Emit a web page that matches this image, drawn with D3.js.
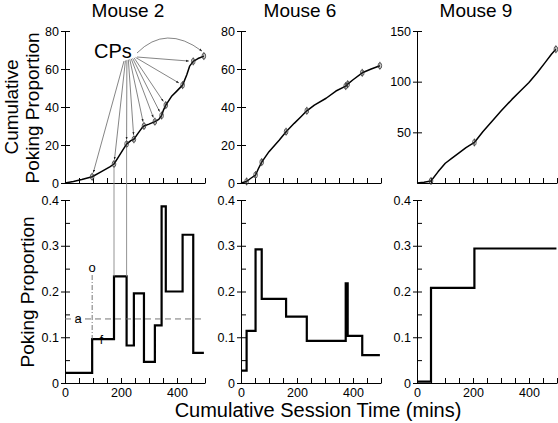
<!DOCTYPE html>
<html><head><meta charset="utf-8">
<script src="https://cdn.jsdelivr.net/npm/d3@7"></script>
<style>
body{margin:0;background:#fff}
svg{display:block}
text{font-family:"Liberation Sans",Arial,Helvetica,sans-serif;fill:#000}
</style>
</head><body>
<svg id="c" width="558" height="423"></svg>
<script>
// ---------- data ----------
const mouseNames = ["Mouse 2", "Mouse 6", "Mouse 9"];
const timeTicks = [0, 50, 100, 150, 200, 250, 300, 350, 400, 450, 500];
const timeLabelTicks = [0, 200, 400];
const propTicks = [0, 0.1, 0.2, 0.3, 0.4];
const propMinorTicks = [0.05, 0.15, 0.25, 0.35];
const cumTicks2 = [0, 20, 40, 60, 80];
const cumTicks6 = [0, 20, 40, 60, 80];
const cumTicks9 = [50, 100, 150];

// Mouse 2 cumulative curve
const m2CumTime = [0, 30, 60, 97, 130, 160, 175, 190, 205, 220, 235, 246, 260, 275, 282, 300, 321, 335, 345, 352, 360, 380, 400, 420, 435, 445, 458, 475, 496];
const m2CumVal  = [0, 0.8, 1.8, 3.3, 6, 8.5, 10, 13.5, 17, 20.5, 22.3, 23, 26, 29, 30, 31, 32.3, 33.5, 35.5, 38.5, 41, 45.5, 48.5, 51.5, 57, 61.5, 64, 65.5, 66.8];
const m2CPTime = [97, 175, 220, 246, 282, 321, 345, 360, 420, 458, 496];
const m2CPVal  = [3.3, 10, 20.5, 23, 30, 32.3, 35.5, 41, 51.5, 64, 66.8];
// Mouse 2 step (poking proportion)
const m2StepTime = [0, 97, 175, 220, 246, 282, 321, 345, 360, 420, 458, 496];
const m2StepVal  = [0.022, 0.096, 0.233, 0.082, 0.196, 0.046, 0.126, 0.386, 0.2, 0.324, 0.066];

// Mouse 6
const m6CumTime = [0, 10, 20, 35, 52, 62, 74, 100, 137, 161, 190, 215, 235, 262, 304, 339, 374, 381, 399, 433, 465, 496];
const m6CumVal  = [0, 0.4, 0.8, 2.5, 4.2, 7.5, 11, 16.5, 22.6, 27, 31.4, 35, 38, 41, 44.6, 48.4, 51, 52, 54.2, 58, 60, 61.7];
const m6CPTime = [20, 52, 74, 161, 235, 374, 381, 433, 496];
const m6CPVal  = [0.8, 4.2, 11, 27, 38, 51, 52, 58, 61.7];
const m6StepTime = [0, 20, 52, 74, 161, 235, 374, 381, 433, 496];
const m6StepVal  = [0.027, 0.114, 0.292, 0.184, 0.145, 0.092, 0.218, 0.103, 0.061];

// Mouse 9
const m9CumTime = [0, 25, 50, 75, 101, 125, 149, 175, 205, 235, 268, 300, 339, 370, 399, 430, 458, 480, 496];
const m9CumVal  = [0, 0.8, 2, 11, 19.5, 24.5, 29.5, 35, 40, 50.5, 61, 71, 82.5, 91, 99, 109, 119, 127, 132];
const m9CPTime = [50, 205, 496];
const m9CPVal  = [2, 40, 132];
const m9StepTime = [0, 50, 205, 498];
const m9StepVal  = [0.003, 0.208, 0.294];

// Mouse 2 annotations (values in data units)
const annotLevelA = 0.14;      // dashed line "a"
const annotOTime = 97;         // dash-dot line "o"
const annotOTop = 0.236;
const annotOBottom = 0.096;
const annotFTime = 130;        // label "f"
const annotFVal = 0.096;
const linkTimes = [175, 220];  // grey lines joining top & bottom panels
const linkTopVals = [10, 20.5];
const linkBottomVal = 0.233;

// ---------- layout ----------
const svg = d3.select("#c");
const panelX = [[65, 205], [241, 381], [417, 557]];
const topRange = [183, 31];
const botRange = [383, 200];

const panels = [
  {cumT: m2CumTime, cumV: m2CumVal, cpT: m2CPTime, cpV: m2CPVal, stT: m2StepTime, stV: m2StepVal, cumMax: 80, cumTicks: cumTicks2},
  {cumT: m6CumTime, cumV: m6CumVal, cpT: m6CPTime, cpV: m6CPVal, stT: m6StepTime, stV: m6StepVal, cumMax: 80, cumTicks: cumTicks6},
  {cumT: m9CumTime, cumV: m9CumVal, cpT: m9CPTime, cpV: m9CPVal, stT: m9StepTime, stV: m9StepVal, cumMax: 150, cumTicks: cumTicks9}
];
const titleX = [128, 300, 476];

function styleAxis(g) {
  g.attr("font-size", null).attr("font-family", null);
  g.selectAll("text").style("font-size", "12.5px").attr("fill", "#000");
  g.selectAll("line").attr("stroke", "#000").attr("stroke-width", 1);
  g.selectAll(".domain").attr("stroke", "#000").attr("stroke-width", 1);
}

function drawYAxis(x0, y, ticks, minor, fmt) {
  const g = svg.append("g").attr("transform", `translate(${x0},0)`);
  g.call(d3.axisLeft(y).tickValues(ticks).tickSizeInner(4).tickSizeOuter(0).tickPadding(2).tickFormat(fmt));
  styleAxis(g);
  const gi = svg.append("g").attr("transform", `translate(${x0},0)`);
  gi.call(d3.axisLeft(y).tickValues(ticks.concat(minor)).tickSizeInner(-5).tickSizeOuter(0).tickFormat(""));
  gi.select(".domain").remove();
  styleAxis(gi);
}

function drawXAxis(x, y0, labels) {
  const g = svg.append("g").attr("transform", `translate(0,${y0})`);
  g.call(d3.axisBottom(x).tickValues(timeTicks).tickSizeInner(-5).tickSizeOuter(0).tickPadding(5)
    .tickFormat(d => labels && timeLabelTicks.includes(d) ? d : ""));
  styleAxis(g);
}

function drawMarker(cx, cy) {
  const g = svg.append("g").attr("transform", `translate(${cx},${cy})`);
  g.append("ellipse").attr("rx", 1.8).attr("ry", 3).attr("fill", "none").attr("stroke", "#333").attr("stroke-width", 0.8);
  g.append("line").attr("x1", 0).attr("x2", 0).attr("y1", -4).attr("y2", 4).attr("stroke", "#333").attr("stroke-width", 0.7);
}

const xs = [], yTops = [], yBots = [];
panels.forEach((p, i) => {
  const x = d3.scaleLinear().domain([0, 500]).range(panelX[i]);
  const yT = d3.scaleLinear().domain([0, p.cumMax]).range(topRange);
  const yB = d3.scaleLinear().domain([0, 0.4]).range(botRange);
  xs.push(x); yTops.push(yT); yBots.push(yB);

  // title
  svg.append("text").attr("x", titleX[i]).attr("y", 17).attr("text-anchor", "middle")
    .style("font-size", "19px").text(mouseNames[i]);

  // axes
  drawYAxis(panelX[i][0], yT, p.cumTicks, [], d3.format("d"));
  drawXAxis(x, topRange[0], false);
  drawYAxis(panelX[i][0], yB, propTicks, propMinorTicks, d => d === 0 ? "0" : d3.format(".1f")(d));
  drawXAxis(x, botRange[0], true);

  // cumulative curve
  const cum = p.cumT.map((t, k) => [t, p.cumV[k]]);
  svg.append("path").datum(cum)
    .attr("d", d3.line().x(d => x(d[0])).y(d => yT(d[1])).curve(d3.curveLinear))
    .attr("fill", "none").attr("stroke", "#000").attr("stroke-width", 1.5).attr("stroke-linejoin", "round");
  p.cpT.forEach((t, k) => drawMarker(x(t), yT(p.cpV[k])));

  // step curve
  const st = p.stV.map((v, k) => [p.stT[k], v]);
  st.push([p.stT[p.stT.length - 1], p.stV[p.stV.length - 1]]);
  svg.append("path").datum(st)
    .attr("d", d3.line().x(d => x(d[0])).y(d => yB(d[1])).curve(d3.curveStepAfter))
    .attr("fill", "none").attr("stroke", "#000").attr("stroke-width", 2.2).attr("stroke-linejoin", "miter");
});

// ---------- Mouse 2 annotations ----------
const x2 = xs[0], yT2 = yTops[0], yB2 = yBots[0];
// grey link lines
linkTimes.forEach((t, k) => {
  svg.append("line").attr("x1", x2(t)).attr("x2", x2(t))
    .attr("y1", yT2(linkTopVals[k]) + 3).attr("y2", yB2(linkBottomVal))
    .attr("stroke", "#888").attr("stroke-width", 0.9);
});
// dashed "a" level
svg.append("line").attr("x1", panelX[0][0]).attr("x2", panelX[0][1])
  .attr("y1", yB2(annotLevelA)).attr("y2", yB2(annotLevelA))
  .attr("stroke", "#666").attr("stroke-width", 0.9).attr("stroke-dasharray", "6,4");
svg.append("text").attr("x", 78).attr("y", yB2(annotLevelA) + 4.5).attr("text-anchor", "middle")
  .style("font-size", "13px").text("a");
// dash-dot "o"
svg.append("line").attr("x1", x2(annotOTime)).attr("x2", x2(annotOTime))
  .attr("y1", yB2(annotOTop)).attr("y2", yB2(annotOBottom))
  .attr("stroke", "#666").attr("stroke-width", 0.9).attr("stroke-dasharray", "5,2,1,2");
svg.append("text").attr("x", x2(annotOTime)).attr("y", yB2(annotOTop) - 3).attr("text-anchor", "middle")
  .style("font-size", "13px").text("o");
svg.append("text").attr("x", x2(annotFTime)).attr("y", yB2(annotFVal) + 5).attr("text-anchor", "middle")
  .style("font-size", "12px").text("f");

// CPs label + arrows
svg.append("text").attr("x", 94).attr("y", 58).style("font-size", "20px").text("CPs");
const defs = svg.append("defs");
defs.append("marker").attr("id", "ah").attr("viewBox", "0 0 10 10").attr("refX", 9).attr("refY", 5)
  .attr("markerWidth", 5).attr("markerHeight", 5).attr("orient", "auto")
  .append("path").attr("d", "M0,1.5L10,5L0,8.5Z").attr("fill", "#222");
const nA = m2CPTime.length - 1;
for (let k = 0; k < nA; k++) {
  const ox = 124 + 13 * k / (nA - 1), oy = 61 - 4 * k / (nA - 1);
  const tx = x2(m2CPTime[k]), ty = yT2(m2CPVal[k]);
  const dx = tx - ox, dy = ty - oy, L = Math.hypot(dx, dy);
  svg.append("line").attr("x1", ox).attr("y1", oy)
    .attr("x2", tx - dx / L * 4.5).attr("y2", ty - dy / L * 4.5)
    .attr("stroke", "#333").attr("stroke-width", 0.6).attr("marker-end", "url(#ah)");
}
{
  const tx = x2(m2CPTime[nA]), ty = yT2(m2CPVal[nA]) - 5;
  svg.append("path").attr("d", `M137,53 Q166,24 ${tx - 2},${ty}`)
    .attr("fill", "none").attr("stroke", "#333").attr("stroke-width", 0.6).attr("marker-end", "url(#ah)");
}

// ---------- axis titles ----------
svg.append("text").attr("transform", "translate(17.5,107) rotate(-90)").attr("text-anchor", "middle")
  .style("font-size", "19px").text("Cumulative");
svg.append("text").attr("transform", "translate(38.5,108) rotate(-90)").attr("text-anchor", "middle")
  .style("font-size", "19px").text("Poking Proportion");
svg.append("text").attr("transform", "translate(34,292) rotate(-90)").attr("text-anchor", "middle")
  .style("font-size", "19px").text("Poking Proportion");
svg.append("text").attr("x", 318).attr("y", 417).attr("text-anchor", "middle")
  .style("font-size", "20px").text("Cumulative Session Time (mins)");
</script>
</body></html>
